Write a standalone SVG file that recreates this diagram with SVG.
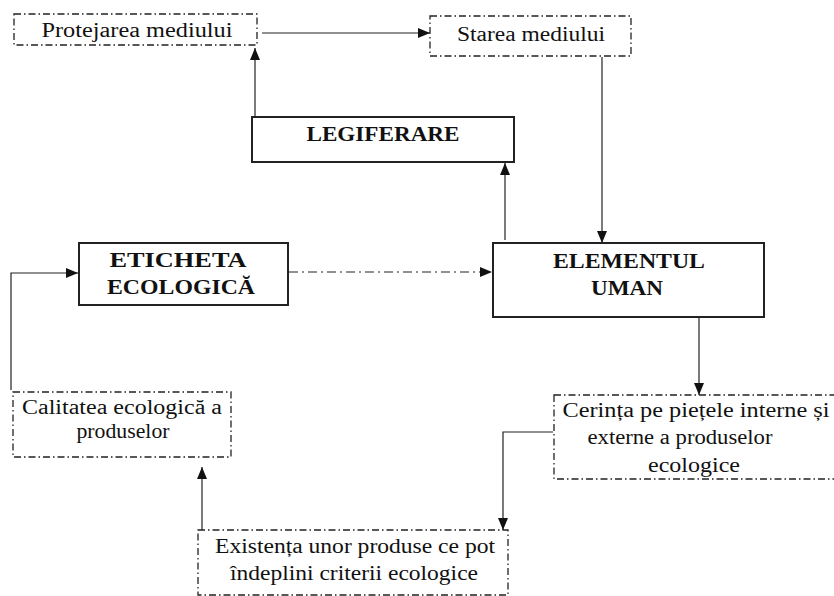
<svg xmlns="http://www.w3.org/2000/svg" width="834" height="596" viewBox="0 0 834 596">
<defs>
<marker id="ah" viewBox="0 0 12 10" refX="12" refY="5" markerWidth="12" markerHeight="10" markerUnits="userSpaceOnUse" orient="auto">
<path d="M0,0 L12,5 L0,10 z" fill="#111"/>
</marker>
</defs>
<style>
.dd{fill:#fff;stroke:#222;stroke-width:1.3;stroke-dasharray:7 3 1.5 3}
.bx{fill:#fff;stroke:#222;stroke-width:2}
text{font-family:'Liberation Serif','Times New Roman',Times,serif;fill:#111;text-anchor:middle}
.t{font-size:20px}
.b{font-size:21px;font-weight:bold}
.c{fill:none;stroke:#222;stroke-width:1.2;marker-end:url(#ah)}
.cd{fill:none;stroke:#222;stroke-width:1.2;stroke-dasharray:9 4 2 4;marker-end:url(#ah)}
</style>
<rect width="834" height="596" fill="#fff"/>
<g id="connectors">
<path class="c" d="M262,33 L430,33"/>
<path class="c" d="M602,57 L602,243"/>
<path class="c" d="M255,117 L255,48"/>
<path class="c" d="M505,240 L505,163"/>
<path class="cd" d="M289,272 L492,272"/>
<path class="c" d="M11,390 L11,273 L78,273"/>
<path class="c" d="M699,318 L699,395"/>
<path class="c" d="M553,432 L503,432 L503,530"/>
<path class="c" d="M202,530 L202,467"/>
</g>
<g id="protejarea">
<rect class="dd" x="14" y="14" width="243" height="31"/>
<text class="t" x="137" y="37" font-family="Liberation Serif, serif" textLength="191" lengthAdjust="spacingAndGlyphs">Protejarea mediului</text>
</g>
<g id="starea">
<rect class="dd" x="430" y="16" width="201" height="40"/>
<text class="t" x="531" y="41" font-family="Liberation Serif, serif" textLength="148" lengthAdjust="spacingAndGlyphs">Starea mediului</text>
</g>
<g id="legiferare">
<rect class="bx" x="252" y="117" width="262" height="45"/>
<text class="b" x="383" y="141" font-family="Liberation Serif, serif" textLength="153" lengthAdjust="spacingAndGlyphs">LEGIFERARE</text>
</g>
<g id="eticheta">
<rect class="bx" x="79" y="243" width="209" height="62"/>
<text class="b" x="178" y="267" font-family="Liberation Serif, serif" textLength="137" lengthAdjust="spacingAndGlyphs">ETICHETA</text>
<text class="b" x="181" y="294" font-family="Liberation Serif, serif" textLength="148" lengthAdjust="spacingAndGlyphs">ECOLOGICĂ</text>
</g>
<g id="elementul">
<rect class="bx" x="493" y="243" width="271" height="74"/>
<text class="b" x="629" y="268" font-family="Liberation Serif, serif" textLength="152" lengthAdjust="spacingAndGlyphs">ELEMENTUL</text>
<text class="b" x="627" y="295" font-family="Liberation Serif, serif" textLength="72" lengthAdjust="spacingAndGlyphs">UMAN</text>
</g>
<g id="calitatea">
<rect class="dd" x="13" y="392" width="218" height="65"/>
<text class="t" x="122" y="414" font-family="Liberation Serif, serif" textLength="200" lengthAdjust="spacingAndGlyphs">Calitatea ecologică a</text>
<text class="t" x="123" y="438" font-family="Liberation Serif, serif" textLength="93" lengthAdjust="spacingAndGlyphs">produselor</text>
</g>
<g id="cerinta">
<rect class="dd" x="554" y="395" width="282" height="84"/>
<text class="t" x="696" y="417" font-family="Liberation Serif, serif" textLength="267" lengthAdjust="spacingAndGlyphs">Cerința pe piețele interne și</text>
<text class="t" x="680" y="444" font-family="Liberation Serif, serif" textLength="185" lengthAdjust="spacingAndGlyphs">externe a produselor</text>
<text class="t" x="694" y="472" font-family="Liberation Serif, serif" textLength="92" lengthAdjust="spacingAndGlyphs">ecologice</text>
</g>
<g id="existenta">
<rect class="dd" x="198" y="530" width="310" height="65"/>
<text class="t" x="355" y="553" font-family="Liberation Serif, serif" textLength="280" lengthAdjust="spacingAndGlyphs">Existența unor produse ce pot</text>
<text class="t" x="354" y="580" font-family="Liberation Serif, serif" textLength="248" lengthAdjust="spacingAndGlyphs">îndeplini criterii ecologice</text>
</g>
</svg>
